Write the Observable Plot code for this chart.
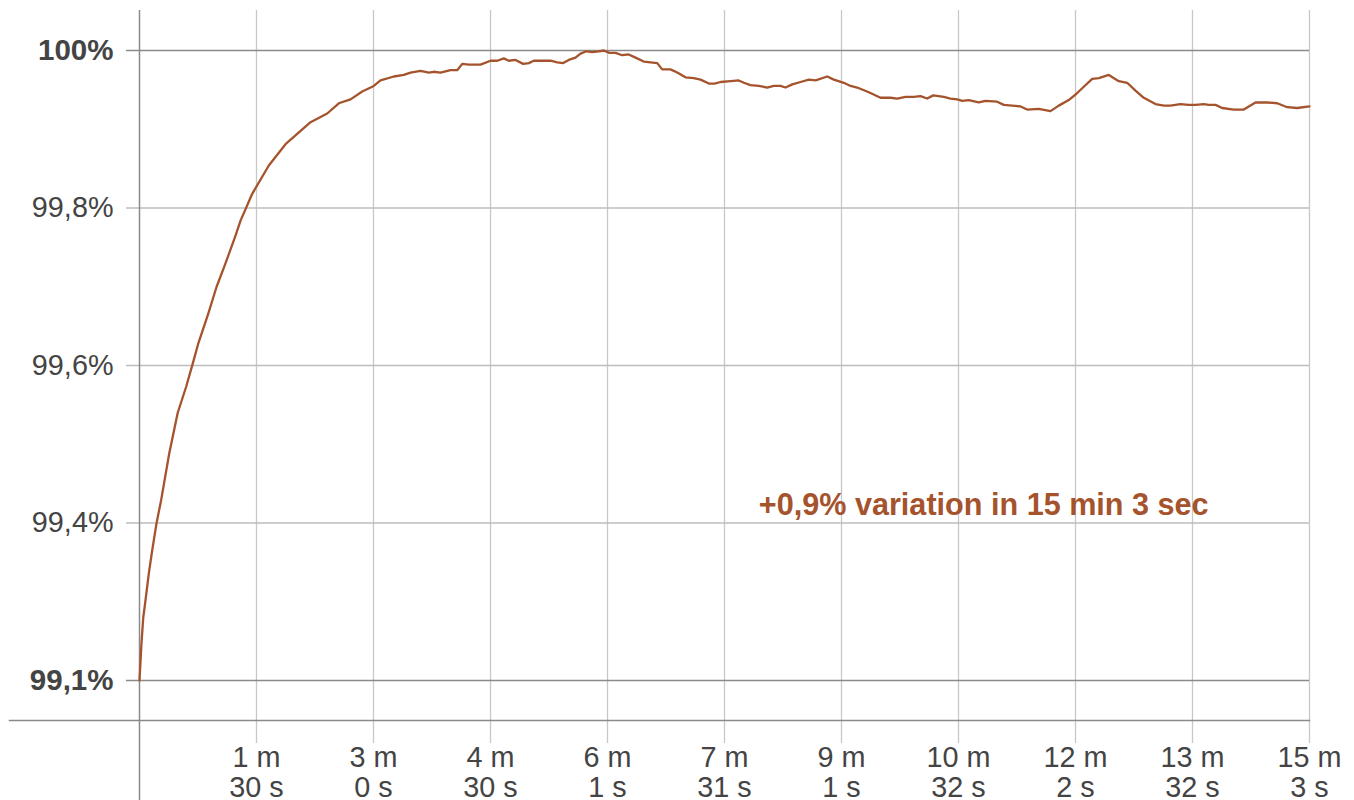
<!DOCTYPE html>
<html>
<head>
<meta charset="utf-8">
<script src="https://cdn.jsdelivr.net/npm/d3@7"></script>
<script src="https://cdn.jsdelivr.net/npm/@observablehq/plot@0.6"></script>
<style>
  html, body { margin: 0; padding: 0; background: #fff; overflow: hidden; }
  #chart svg { display: block; }
</style>
</head>
<body>
<div id="chart"></div>
<script>
// elapsed time in seconds
const seconds = [
  0, 1.5, 2.9, 4.6, 7.2, 9.8, 13.1, 16.7, 22.9, 29.5, 36.0, 41.2, 45.2, 52.9, 59.5, 66.0, 73.9, 78.0,
  87.0, 99.8, 112.7, 121.7, 132.0, 144.9, 153.8, 162.9, 171.9, 180.8, 186.0, 196.3, 204.0, 209.2,
  216.9, 223.3, 227.1, 232.3, 240.0, 245.2, 249.1, 254.2, 263.2, 270.9, 276.1, 281.2, 285.0, 290.2,
  296.1, 300.5, 304.3, 310.8, 317.2, 322.4, 327.0, 331.3, 336.5, 340.4, 345.0, 349.4, 354.5, 358.3,
  362.7, 367.4, 372.5, 377.6, 382.8, 389.2, 394.4, 399.6, 403.4, 409.8, 415.0, 421.4, 427.8, 433.0,
  439.4, 443.8, 448.4, 456.2, 462.5, 466.4, 471.5, 478.0, 484.5, 489.5, 494.7, 498.6, 503.8, 510.2,
  516.6, 521.8, 530.8, 535.9, 543.6, 548.8, 553.9, 562.9, 571.9, 579.6, 584.8, 591.2, 597.6, 602.8,
  607.9, 612.6, 620.8, 625.9, 631.1, 635.0, 640.0, 647.8, 652.9, 661.9, 667.1, 673.5, 680.0, 685.1,
  694.1, 703.1, 709.5, 717.2, 723.7, 728.8, 735.3, 740.4, 748.1, 755.8, 762.3, 768.7, 775.1, 784.1,
  790.6, 795.7, 803.4, 809.8, 815.0, 821.4, 825.3, 830.5, 835.6, 844.6, 852.3, 861.3, 870.4, 878.1,
  885.8, 893.5, 903
];
// relative value, percent
const share = [
  99.100, 99.170, 99.220, 99.252, 99.304, 99.348, 99.399, 99.429, 99.488, 99.540, 99.573, 99.603, 99.627, 99.665, 99.700, 99.728, 99.764, 99.784,
  99.818, 99.854, 99.881, 99.894, 99.909, 99.920, 99.933, 99.938, 99.948, 99.955, 99.962, 99.967, 99.969, 99.972,
  99.974, 99.972, 99.973, 99.972, 99.975, 99.975, 99.983, 99.982, 99.982, 99.987, 99.987, 99.990, 99.987, 99.988,
  99.983, 99.984, 99.987, 99.987, 99.987, 99.985, 99.984, 99.988, 99.991, 99.996, 99.999, 99.998, 99.999, 100.000,
  99.997, 99.997, 99.994, 99.995, 99.991, 99.986, 99.985, 99.984, 99.976, 99.976, 99.972, 99.966, 99.965, 99.963,
  99.958, 99.958, 99.960, 99.961, 99.962, 99.959, 99.956, 99.955, 99.953, 99.955, 99.955, 99.953, 99.957, 99.960,
  99.963, 99.962, 99.967, 99.963, 99.959, 99.955, 99.953, 99.947, 99.940, 99.940, 99.939, 99.941, 99.941, 99.942,
  99.939, 99.943, 99.941, 99.939, 99.938, 99.936, 99.937, 99.934, 99.936, 99.935, 99.931, 99.930, 99.929, 99.925,
  99.926, 99.923, 99.930, 99.937, 99.946, 99.954, 99.964, 99.965, 99.969, 99.961, 99.959, 99.949, 99.940, 99.932,
  99.930, 99.930, 99.932, 99.931, 99.931, 99.932, 99.931, 99.931, 99.927, 99.925, 99.925, 99.934, 99.934, 99.933,
  99.928, 99.927, 99.929
];

const xTickSeconds = [90.3, 180.6, 270.9, 361.2, 451.5, 541.8, 632.1, 722.4, 812.7, 903];
const xTickLabels = ["1 m\n30 s", "3 m\n0 s", "4 m\n30 s", "6 m\n1 s", "7 m\n31 s", "9 m\n1 s", "10 m\n32 s", "12 m\n2 s", "13 m\n32 s", "15 m\n3 s"];

const yTickValues = [100, 99.8, 99.6, 99.4, 99.1];
const yTickLabels = ["100%", "99,8%", "99,6%", "99,4%", "99,1%"];
const yBoldTicks = [100, 99.1];

const annotation = {t: 478, value: 99.41, label: "+0,9% variation in 15 min 3 sec"};

// The axis below 99,4% is compressed: 99,1% sits one grid step (0,2 units) below 99,4%.
const yBreak = 99.4;
const yCompress = 2 / 3;
const yWarp = v => (v >= yBreak ? v : yBreak - (yBreak - v) * yCompress);
// domain in display units (after the warp)
const yDomain = [99.1492, 100.0508];

const W = 1354, H = 800;
const marginTop = 10, marginBottom = 80, marginLeft = 139, marginRight = 45;

const data = seconds.map((t, i) => ({t, v: share[i]}));
const xTicks = xTickSeconds.map((t, i) => ({t, label: xTickLabels[i]}));
const yTicks = yTickValues.map((v, i) => ({v, label: yTickLabels[i], bold: yBoldTicks.includes(v)}));

const font = "'Liberation Sans', Arial, Helvetica, sans-serif";
const textColor = "#444";
const lineColor = "#a5532d";

const chart = Plot.plot({
  width: W,
  height: H,
  marginTop, marginBottom, marginLeft, marginRight,
  style: {fontFamily: font, background: "#fff"},
  x: {domain: [0, 903], axis: null},
  y: {domain: yDomain, transform: yWarp, axis: null},
  marks: [
    Plot.ruleX(xTickSeconds, {stroke: "#c8c8c8", strokeWidth: 1.3, insetBottom: -23}),
    Plot.ruleY(yTickValues.filter(v => !yBoldTicks.includes(v)), {stroke: "#bdbdbd", strokeWidth: 1.3, insetLeft: -13}),
    Plot.ruleY(yBoldTicks, {stroke: "#8a8a8a", strokeWidth: 1.3, insetLeft: -13}),
    Plot.frame({anchor: "bottom", stroke: "#8a8a8a", strokeWidth: 1.5, insetLeft: -130}),
    Plot.ruleX([0], {stroke: "#8a8a8a", strokeWidth: 1.5, insetBottom: -80}),
    Plot.line(data, {x: "t", y: "v", stroke: lineColor, strokeWidth: 2.3}),
    Plot.text(yTicks.filter(d => !d.bold), {
      y: "v", text: "label", frameAnchor: "left", textAnchor: "end", dx: -26,
      fontSize: 28.8, fill: textColor, fontFamily: font
    }),
    Plot.text(yTicks.filter(d => d.bold), {
      y: "v", text: "label", frameAnchor: "left", textAnchor: "end", dx: -26,
      fontSize: 29.5, fontWeight: "bold", fill: textColor, fontFamily: font
    }),
    Plot.text(xTicks, {
      x: "t", text: "label", frameAnchor: "bottom", lineAnchor: "top", dy: 25,
      lineHeight: 1.04, fontSize: 28.8, fill: textColor, fontFamily: font
    }),
    Plot.text([annotation], {
      x: "t", y: "value", text: "label", textAnchor: "start", lineAnchor: "bottom",
      fontSize: 30.6, fontWeight: "bold", fill: lineColor, fontFamily: font
    })
  ]
});
document.getElementById("chart").appendChild(chart);
</script>
</body>
</html>
